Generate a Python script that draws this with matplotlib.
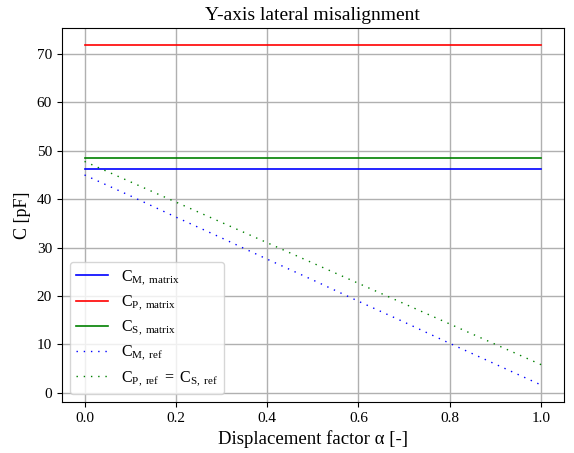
import numpy as np
import matplotlib.pyplot as plt

plt.rcParams['font.family'] = 'Liberation Serif'
plt.rcParams['mathtext.fontset'] = 'custom'
plt.rcParams['mathtext.rm'] = 'Liberation Serif'
plt.rcParams['mathtext.it'] = 'Liberation Serif:italic'

# displacement factor
alpha = np.linspace(0, 1, 11)

# capacitances [pF]
c_m_matrix = [46.3, 46.3, 46.3, 46.3, 46.3, 46.3, 46.3, 46.3, 46.3, 46.3, 46.3]
c_p_matrix = [71.8, 71.8, 71.8, 71.8, 71.8, 71.8, 71.8, 71.8, 71.8, 71.8, 71.8]
c_s_matrix = [48.5, 48.5, 48.5, 48.5, 48.5, 48.5, 48.5, 48.5, 48.5, 48.5, 48.5]
c_m_ref = [45.0, 40.7, 36.3, 32.0, 27.6, 23.3, 18.9, 14.6, 10.2, 5.9, 1.6]
c_ps_ref = [47.8, 43.6, 39.4, 35.2, 31.0, 26.8, 22.6, 18.4, 14.2, 10.0, 5.8]

fig = plt.figure(figsize=(5.74, 4.53), dpi=100)
ax = fig.add_axes([0.1075, 0.1126, 0.875, 0.825])

ax.plot(alpha, c_m_matrix, color='blue', lw=1.2, label=r'$\mathrm{C_{M,\ matrix}}$')
ax.plot(alpha, c_p_matrix, color='red', lw=1.2, label=r'$\mathrm{C_{P,\ matrix}}$')
ax.plot(alpha, c_s_matrix, color='green', lw=1.2, label=r'$\mathrm{C_{S,\ matrix}}$')
ax.plot(alpha, c_m_ref, color='blue', lw=1.0, dashes=(1, 4.2),
        label=r'$\mathrm{C_{M,\ ref}}$')
ax.plot(alpha, c_ps_ref, color='green', lw=1.0, dashes=(1, 4.2),
        label=r'$\mathrm{C_{P,\ ref}\ =\ C_{S,\ ref}}$')

ax.set_xticks([0, 0.2, 0.4, 0.6, 0.8, 1.0])
ax.set_yticks(range(0, 80, 10))
ax.tick_params(labelsize=11)
ax.set_title('Y-axis lateral misalignment', fontsize=14)
ax.set_xlabel('Displacement factor α [-]', fontsize=13.5)
ax.set_ylabel('C [pF]', fontsize=13)
ax.grid(True, color='#b0b0b0', lw=1)
ax.legend(loc='lower left', fontsize=11.5, labelspacing=0.4)

fig.savefig('out.png', dpi=100)
